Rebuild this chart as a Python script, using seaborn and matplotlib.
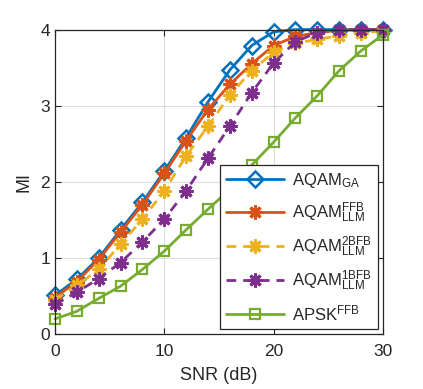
import numpy as np
import pandas as pd
import matplotlib
matplotlib.use("Agg")
import matplotlib.pyplot as plt
import seaborn as sns

# valores
snr = [0, 2, 4, 6, 8, 10, 12, 14, 16, 18, 20, 22, 24, 26, 28, 30]
mi_ga = [0.51, 0.72, 1.00, 1.37, 1.73, 2.14, 2.58, 3.05, 3.47, 3.79, 3.97, 4.00, 4.00, 4.00, 4.00, 4.00]
mi_ffb = [0.48, 0.69, 0.98, 1.34, 1.70, 2.11, 2.54, 2.95, 3.28, 3.55, 3.79, 3.91, 3.96, 3.99, 4.00, 4.00]
mi_2bfb = [0.45, 0.64, 0.85, 1.18, 1.51, 1.88, 2.34, 2.73, 3.14, 3.46, 3.70, 3.82, 3.87, 3.92, 3.96, 3.98]
mi_1bfb = [0.39, 0.55, 0.73, 0.94, 1.21, 1.51, 1.88, 2.31, 2.73, 3.17, 3.56, 3.84, 3.96, 3.99, 4.00, 4.00]
mi_apsk = [0.20, 0.30, 0.47, 0.63, 0.85, 1.09, 1.37, 1.64, 1.90, 2.22, 2.52, 2.84, 3.13, 3.46, 3.72, 3.93]

labels = [r"AQAM$_{\mathrm{GA}}$",
          r"AQAM$^{\mathrm{FFB}}_{\mathrm{LLM}}$",
          r"AQAM$^{\mathrm{2BFB}}_{\mathrm{LLM}}$",
          r"AQAM$^{\mathrm{1BFB}}_{\mathrm{LLM}}$",
          r"APSK$^{\mathrm{FFB}}$"]
colors = ["#0072BD", "#D95319", "#EDB120", "#7E2F8E", "#77AC30"]

sns.set_style("ticks")
plt.rcParams["font.family"] = ["Liberation Sans", "DejaVu Sans"]
plt.rcParams["mathtext.fontset"] = "custom"
plt.rcParams["mathtext.rm"] = "Liberation Sans"
plt.rcParams["mathtext.it"] = "Liberation Sans:italic"

fig = plt.figure(figsize=(4.23, 3.89), dpi=100)
ax = fig.add_axes([0.130, 0.141, 0.775, 0.783])

asterisk = (8, 2, 0)
series = [mi_ga, mi_ffb, mi_2bfb, mi_1bfb, mi_apsk]
styles = [
    dict(marker="D", markersize=8.5, mfc="none", mew=1.8, linestyle="-"),
    dict(marker=asterisk, markersize=10, mew=2.2, linestyle="-"),
    dict(marker=asterisk, markersize=10, mew=2.2, linestyle=(0, (3.5, 2.5))),
    dict(marker=asterisk, markersize=10, mew=2.2, linestyle=(0, (3.5, 2.5))),
    dict(marker="s", markersize=7, mfc="none", mew=1.6, linestyle="-"),
]

for vals, lab, col, st in zip(series, labels, colors, styles):
    sns.lineplot(x=snr, y=vals, ax=ax, color=col, label=lab, linewidth=2,
                 mec=col, clip_on=False, **st)

ax.set_xlim(0, 30)
ax.set_ylim(0, 4)
ax.set_xticks([0, 10, 20, 30])
ax.set_yticks([0, 1, 2, 3, 4])
ax.grid(True, color="#dcdcdc", linewidth=0.8)
ax.tick_params(direction="in", top=True, right=True, labelsize=12.5,
               colors="#262626", length=4, width=0.8)
ax.tick_params(axis="x", pad=7)
for s in ax.spines.values():
    s.set_color("#262626")
    s.set_linewidth(0.9)
ax.set_xlabel("SNR (dB)", fontsize=13, color="#262626", labelpad=6)
ax.set_ylabel("MI", fontsize=13, color="#262626", labelpad=6)

leg = ax.legend(loc="lower right", fontsize=12, handlelength=3.5,
                labelspacing=0.6, borderaxespad=0.3, fancybox=False,
                framealpha=1, edgecolor="#262626", borderpad=0.35,
                handletextpad=0.5)
leg.get_frame().set_linewidth(0.9)
leg.set_zorder(5)

fig.savefig("out.png", dpi=100)
